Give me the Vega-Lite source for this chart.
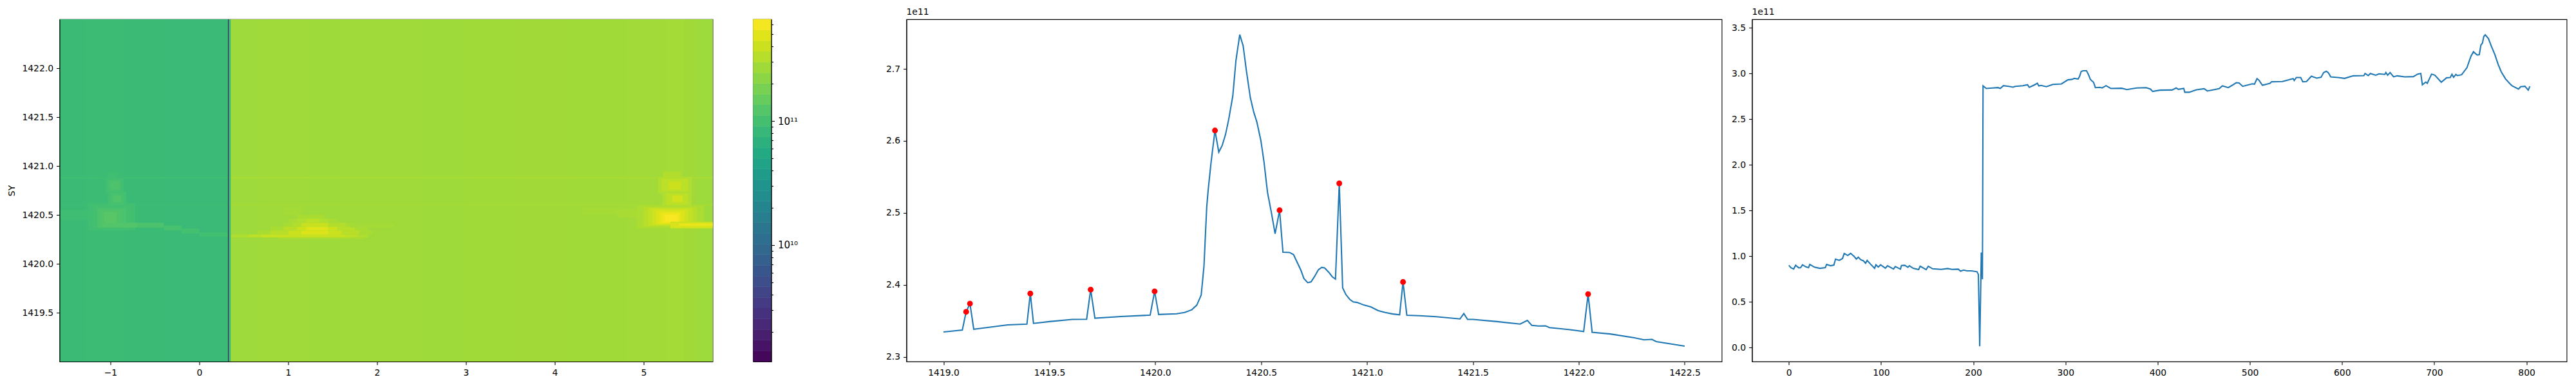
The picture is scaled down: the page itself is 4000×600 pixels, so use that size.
{"$schema":"https://vega.github.io/schema/vega-lite/v6.json","background":"white","padding":{"left":10.5,"top":11,"right":0,"bottom":0},"bounds":"flush","spacing":0,
"config":{"view":{"stroke":"black","strokeWidth":1.1},"axis":{"grid":false,"labelFont":"DejaVu Sans","labelFontSize":13.9,"labelColor":"black","tickColor":"black","domainColor":"black","tickSize":5,"tickWidth":1.1,"domainWidth":1.1,"labelPadding":5,"titleFont":"DejaVu Sans","titleFontWeight":"normal","titleFontSize":13.9,"titleColor":"black","labelOverlap":false,"labelFlush":false}},
"datasets":{
"none":[{"a":0,"b":0}],
"heat":[
{"x0":-1.572,"x1":0.355,"y0":1419,"y1":1422.5,"v":0.87e11},{"x0":0.355,"x1":5.775,"y0":1419,"y1":1422.5,"v":2.68e11},
{"x0":-1.3,"x1":-1.1,"y0":1419,"y1":1422.5,"v":0.88e11},{"x0":-1.1,"x1":-0.85,"y0":1419,"y1":1422.5,"v":0.89e11},{"x0":-0.4,"x1":0.355,"y0":1419,"y1":1422.5,"v":0.86e11},
{"x0":0.355,"x1":0.7,"y0":1419,"y1":1422.5,"v":2.64e11},{"x0":1.2,"x1":1.6,"y0":1419,"y1":1422.5,"v":2.66e11},{"x0":2.5,"x1":3,"y0":1419,"y1":1422.5,"v":2.65e11},{"x0":3,"x1":3.6,"y0":1419,"y1":1422.5,"v":2.7e11},{"x0":3.6,"x1":4.2,"y0":1419,"y1":1422.5,"v":2.73e11},{"x0":4.2,"x1":4.8,"y0":1419,"y1":1422.5,"v":2.7e11},{"x0":4.8,"x1":5.15,"y0":1419,"y1":1422.5,"v":2.72e11},{"x0":5.15,"x1":5.25,"y0":1419,"y1":1422.5,"v":2.75e11},{"x0":5.25,"x1":5.45,"y0":1419,"y1":1422.5,"v":2.84e11},{"x0":5.45,"x1":5.6,"y0":1419,"y1":1422.5,"v":2.73e11},{"x0":5.6,"x1":5.775,"y0":1419,"y1":1422.5,"v":2.62e11},
{"x0":-1.572,"x1":0.355,"y0":1420.872,"y1":1420.885,"v":0.95e11},{"x0":0.355,"x1":5.775,"y0":1420.872,"y1":1420.885,"v":3.0e11},{"x0":-1.572,"x1":0.355,"y0":1420.595,"y1":1420.608,"v":0.9e11},{"x0":0.355,"x1":5.775,"y0":1420.595,"y1":1420.608,"v":2.85e11},
{"x0":-1.572,"x1":-1.15,"y0":1420.45,"y1":1420.55,"v":0.93e11},{"x0":-1.25,"x1":-0.72,"y0":1420.34,"y1":1420.62,"v":0.95e11},{"x0":-1.2,"x1":-0.75,"y0":1420.36,"y1":1420.6,"v":1.0e11},{"x0":-1.15,"x1":-0.82,"y0":1420.37,"y1":1420.57,"v":1.08e11},{"x0":-1.12,"x1":-0.87,"y0":1420.39,"y1":1420.55,"v":1.15e11},{"x0":-1.07,"x1":-0.93,"y0":1420.41,"y1":1420.53,"v":1.27e11},
{"x0":-1.06,"x1":-0.85,"y0":1420.72,"y1":1420.88,"v":0.96e11},{"x0":-1.03,"x1":-0.88,"y0":1420.74,"y1":1420.86,"v":1.03e11},{"x0":-1.0,"x1":-0.9,"y0":1420.76,"y1":1420.84,"v":1.13e11},{"x0":-1.03,"x1":-0.82,"y0":1420.58,"y1":1420.74,"v":0.97e11},{"x0":-1.0,"x1":-0.85,"y0":1420.6,"y1":1420.72,"v":1.05e11},{"x0":-0.97,"x1":-0.88,"y0":1420.63,"y1":1420.7,"v":1.16e11},{"x0":-1.03,"x1":-0.92,"y0":1420.86,"y1":1420.93,"v":0.96e11},
{"x0":-1.1,"x1":-0.7,"y0":1420.37,"y1":1420.42,"v":1.18e11},{"x0":-0.7,"x1":-0.4,"y0":1420.37,"y1":1420.42,"v":1.1e11},{"x0":-0.4,"x1":-0.2,"y0":1420.34,"y1":1420.39,"v":1.04e11},{"x0":-0.2,"x1":0,"y0":1420.31,"y1":1420.36,"v":1.01e11},{"x0":0,"x1":0.322,"y0":1420.28,"y1":1420.32,"v":0.97e11},
{"x0":0.9,"x1":1.85,"y0":1420.25,"y1":1420.27,"v":2.95e11},{"x0":0.36,"x1":1.9,"y0":1420.27,"y1":1420.3,"v":3.1e11},{"x0":0.55,"x1":1.78,"y0":1420.27,"y1":1420.3,"v":3.5e11},{"x0":0.7,"x1":1.65,"y0":1420.27,"y1":1420.3,"v":3.9e11},
{"x0":0.65,"x1":1.95,"y0":1420.3,"y1":1420.34,"v":2.95e11},{"x0":0.8,"x1":1.8,"y0":1420.3,"y1":1420.34,"v":3.4e11},{"x0":1.0,"x1":1.6,"y0":1420.3,"y1":1420.34,"v":4.1e11},{"x0":1.15,"x1":1.45,"y0":1420.3,"y1":1420.34,"v":4.8e11},
{"x0":0.8,"x1":1.9,"y0":1420.34,"y1":1420.38,"v":2.95e11},{"x0":0.95,"x1":1.75,"y0":1420.34,"y1":1420.38,"v":3.4e11},{"x0":1.1,"x1":1.55,"y0":1420.34,"y1":1420.38,"v":4.1e11},{"x0":1.2,"x1":1.45,"y0":1420.34,"y1":1420.38,"v":4.9e11},
{"x0":0.95,"x1":1.75,"y0":1420.38,"y1":1420.42,"v":2.9e11},{"x0":1.05,"x1":1.65,"y0":1420.38,"y1":1420.42,"v":3.2e11},{"x0":1.15,"x1":1.45,"y0":1420.38,"y1":1420.42,"v":3.9e11},{"x0":1.0,"x1":1.55,"y0":1420.42,"y1":1420.46,"v":2.9e11},{"x0":1.1,"x1":1.45,"y0":1420.42,"y1":1420.46,"v":3.1e11},{"x0":1.2,"x1":1.35,"y0":1420.42,"y1":1420.46,"v":3.5e11},{"x0":1.1,"x1":1.4,"y0":1420.46,"y1":1420.5,"v":2.95e11},{"x0":0.95,"x1":1.15,"y0":1420.5,"y1":1420.58,"v":2.82e11},{"x0":1.7,"x1":2.2,"y0":1420.37,"y1":1420.41,"v":2.82e11},
{"x0":4.3,"x1":4.9,"y0":1420.5,"y1":1420.58,"v":2.82e11},{"x0":4.7,"x1":5.05,"y0":1420.47,"y1":1420.55,"v":2.92e11},{"x0":4.92,"x1":5.68,"y0":1420.36,"y1":1420.6,"v":3.0e11},{"x0":5.0,"x1":5.6,"y0":1420.38,"y1":1420.58,"v":3.3e11},{"x0":5.05,"x1":5.55,"y0":1420.39,"y1":1420.57,"v":3.7e11},{"x0":5.1,"x1":5.5,"y0":1420.4,"y1":1420.56,"v":4.2e11},{"x0":5.14,"x1":5.46,"y0":1420.405,"y1":1420.545,"v":4.7e11},{"x0":5.18,"x1":5.42,"y0":1420.41,"y1":1420.53,"v":5.2e11},{"x0":5.21,"x1":5.4,"y0":1420.42,"y1":1420.515,"v":5.8e11},{"x0":5.24,"x1":5.38,"y0":1420.43,"y1":1420.5,"v":6.4e11},{"x0":5.3,"x1":5.775,"y0":1420.36,"y1":1420.43,"v":3.9e11},{"x0":5.3,"x1":5.775,"y0":1420.37,"y1":1420.42,"v":4.6e11},{"x0":5.4,"x1":5.775,"y0":1420.39,"y1":1420.41,"v":5.5e11},
{"x0":5.16,"x1":5.54,"y0":1420.72,"y1":1420.89,"v":3.1e11},{"x0":5.2,"x1":5.5,"y0":1420.74,"y1":1420.87,"v":3.5e11},{"x0":5.28,"x1":5.42,"y0":1420.76,"y1":1420.84,"v":4.1e11},{"x0":5.21,"x1":5.54,"y0":1420.58,"y1":1420.74,"v":3.1e11},{"x0":5.25,"x1":5.5,"y0":1420.6,"y1":1420.72,"v":3.5e11},{"x0":5.32,"x1":5.44,"y0":1420.63,"y1":1420.7,"v":4.2e11},{"x0":5.22,"x1":5.42,"y0":1420.87,"y1":1420.94,"v":3.2e11},
{"x0":0.3235,"x1":0.3305,"y0":1419,"y1":1422.5,"v":1.2e9}],
"bar":[
{"a":0,"b":1,"lo":1.15e9,"hi":1.40e9,"v":1.27e9},{"a":0,"b":1,"lo":1.40e9,"hi":1.71e9,"v":1.55e9},{"a":0,"b":1,"lo":1.71e9,"hi":2.08e9,"v":1.88e9},{"a":0,"b":1,"lo":2.08e9,"hi":2.54e9,"v":2.3e9},{"a":0,"b":1,"lo":2.54e9,"hi":3.10e9,"v":2.8e9},{"a":0,"b":1,"lo":3.10e9,"hi":3.78e9,"v":3.42e9},{"a":0,"b":1,"lo":3.78e9,"hi":4.61e9,"v":4.17e9},{"a":0,"b":1,"lo":4.61e9,"hi":5.62e9,"v":5.09e9},{"a":0,"b":1,"lo":5.62e9,"hi":6.85e9,"v":6.2e9},{"a":0,"b":1,"lo":6.85e9,"hi":8.37e9,"v":7.57e9},{"a":0,"b":1,"lo":8.37e9,"hi":1.02e10,"v":9.24e9},{"a":0,"b":1,"lo":1.02e10,"hi":1.24e10,"v":1.13e10},{"a":0,"b":1,"lo":1.24e10,"hi":1.52e10,"v":1.37e10},{"a":0,"b":1,"lo":1.52e10,"hi":1.85e10,"v":1.68e10},{"a":0,"b":1,"lo":1.85e10,"hi":2.26e10,"v":2.04e10},{"a":0,"b":1,"lo":2.26e10,"hi":2.75e10,"v":2.49e10},{"a":0,"b":1,"lo":2.75e10,"hi":3.36e10,"v":3.04e10},{"a":0,"b":1,"lo":3.36e10,"hi":4.10e10,"v":3.71e10},{"a":0,"b":1,"lo":4.10e10,"hi":5.00e10,"v":4.53e10},{"a":0,"b":1,"lo":5.00e10,"hi":6.10e10,"v":5.52e10},{"a":0,"b":1,"lo":6.10e10,"hi":7.43e10,"v":6.73e10},{"a":0,"b":1,"lo":7.43e10,"hi":9.08e10,"v":8.22e10},{"a":0,"b":1,"lo":9.08e10,"hi":1.11e11,"v":1.0e11},{"a":0,"b":1,"lo":1.11e11,"hi":1.35e11,"v":1.22e11},{"a":0,"b":1,"lo":1.35e11,"hi":1.64e11,"v":1.49e11},{"a":0,"b":1,"lo":1.64e11,"hi":2.01e11,"v":1.82e11},{"a":0,"b":1,"lo":2.01e11,"hi":2.45e11,"v":2.22e11},{"a":0,"b":1,"lo":2.45e11,"hi":2.99e11,"v":2.7e11},{"a":0,"b":1,"lo":2.99e11,"hi":3.64e11,"v":3.3e11},{"a":0,"b":1,"lo":3.64e11,"hi":4.45e11,"v":4.03e11},{"a":0,"b":1,"lo":4.45e11,"hi":5.42e11,"v":4.91e11},{"a":0,"b":1,"lo":5.42e11,"hi":6.61e11,"v":5.99e11}],
"slice":[
{"x":1419.0,"y":2.3346e11},{"x":1419.089,"y":2.3373e11},{"x":1419.107,"y":2.3626e11},{"x":1419.125,"y":2.374e11},{"x":1419.143,"y":2.3383e11},{"x":1419.303,"y":2.3445e11},{"x":1419.394,"y":2.3455e11},{"x":1419.41,"y":2.388e11},{"x":1419.425,"y":2.3465e11},{"x":1419.5,"y":2.349e11},{"x":1419.608,"y":2.352e11},{"x":1419.676,"y":2.3523e11},{"x":1419.695,"y":2.3934e11},{"x":1419.715,"y":2.3537e11},{"x":1419.838,"y":2.356e11},{"x":1419.976,"y":2.358e11},{"x":1419.997,"y":2.391e11},{"x":1420.016,"y":2.3588e11},{"x":1420.1,"y":2.3599e11},{"x":1420.138,"y":2.3616e11},{"x":1420.172,"y":2.3653e11},{"x":1420.196,"y":2.3718e11},{"x":1420.217,"y":2.3859e11},{"x":1420.23,"y":2.4259e11},{"x":1420.243,"y":2.508e11},{"x":1420.25,"y":2.532e11},{"x":1420.264,"y":2.5713e11},{"x":1420.282,"y":2.6144e11},{"x":1420.3,"y":2.5843e11},{"x":1420.316,"y":2.5935e11},{"x":1420.332,"y":2.609e11},{"x":1420.347,"y":2.63e11},{"x":1420.366,"y":2.662e11},{"x":1420.381,"y":2.7116e11},{"x":1420.399,"y":2.7475e11},{"x":1420.415,"y":2.732e11},{"x":1420.431,"y":2.696e11},{"x":1420.449,"y":2.66e11},{"x":1420.465,"y":2.64e11},{"x":1420.48,"y":2.626e11},{"x":1420.499,"y":2.6e11},{"x":1420.514,"y":2.5696e11},{"x":1420.53,"y":2.5285e11},{"x":1420.548,"y":2.501e11},{"x":1420.566,"y":2.471e11},{"x":1420.587,"y":2.5036e11},{"x":1420.603,"y":2.4454e11},{"x":1420.634,"y":2.445e11},{"x":1420.653,"y":2.442e11},{"x":1420.668,"y":2.4327e11},{"x":1420.687,"y":2.4208e11},{"x":1420.702,"y":2.4088e11},{"x":1420.72,"y":2.403e11},{"x":1420.736,"y":2.4043e11},{"x":1420.752,"y":2.4115e11},{"x":1420.77,"y":2.4208e11},{"x":1420.786,"y":2.4242e11},{"x":1420.8,"y":2.4235e11},{"x":1420.82,"y":2.4173e11},{"x":1420.836,"y":2.4112e11},{"x":1420.851,"y":2.408e11},{"x":1420.869,"y":2.541e11},{"x":1420.885,"y":2.3958e11},{"x":1420.9,"y":2.3866e11},{"x":1420.919,"y":2.3797e11},{"x":1420.935,"y":2.3763e11},{"x":1420.953,"y":2.3756e11},{"x":1420.987,"y":2.3718e11},{"x":1421.018,"y":2.3694e11},{"x":1421.052,"y":2.3643e11},{"x":1421.086,"y":2.3616e11},{"x":1421.123,"y":2.3595e11},{"x":1421.154,"y":2.3585e11},{"x":1421.17,"y":2.404e11},{"x":1421.188,"y":2.3578e11},{"x":1421.248,"y":2.3571e11},{"x":1421.326,"y":2.3558e11},{"x":1421.439,"y":2.3527e11},{"x":1421.457,"y":2.3602e11},{"x":1421.475,"y":2.352e11},{"x":1421.501,"y":2.352e11},{"x":1421.614,"y":2.349e11},{"x":1421.723,"y":2.3455e11},{"x":1421.757,"y":2.3506e11},{"x":1421.778,"y":2.3438e11},{"x":1421.81,"y":2.3428e11},{"x":1421.843,"y":2.3431e11},{"x":1421.862,"y":2.3407e11},{"x":1421.953,"y":2.338e11},{"x":1422.023,"y":2.3352e11},{"x":1422.044,"y":2.3872e11},{"x":1422.063,"y":2.3342e11},{"x":1422.149,"y":2.3318e11},{"x":1422.266,"y":2.3263e11},{"x":1422.308,"y":2.3236e11},{"x":1422.345,"y":2.3243e11},{"x":1422.366,"y":2.3212e11},{"x":1422.5,"y":2.315e11}],
"peaks":[{"x":1419.107,"y":2.3626e11},{"x":1419.125,"y":2.374e11},{"x":1419.41,"y":2.388e11},{"x":1419.695,"y":2.3934e11},{"x":1419.997,"y":2.391e11},{"x":1420.282,"y":2.6144e11},{"x":1420.587,"y":2.5036e11},{"x":1420.869,"y":2.541e11},{"x":1421.17,"y":2.404e11},{"x":1422.044,"y":2.3872e11}],
"profile":[
{"x":0,"y":0.9e11},{"x":2.2,"y":0.874e11},{"x":5.2,"y":0.86e11},{"x":7.3,"y":0.9e11},{"x":10.8,"y":0.872e11},{"x":12.7,"y":0.874e11},{"x":14.8,"y":0.905e11},{"x":18.5,"y":0.883e11},{"x":21.3,"y":0.874e11},{"x":22.7,"y":0.909e11},{"x":27.8,"y":0.879e11},{"x":33.6,"y":0.867e11},{"x":39.5,"y":0.874e11},{"x":40.9,"y":0.909e11},{"x":45.3,"y":0.895e11},{"x":48.8,"y":0.902e11},{"x":50.6,"y":0.968e11},{"x":54.6,"y":0.954e11},{"x":58.1,"y":0.973e11},{"x":60,"y":1.029e11},{"x":63.9,"y":1.008e11},{"x":67,"y":1.031e11},{"x":70.9,"y":0.996e11},{"x":73.2,"y":0.968e11},{"x":75.3,"y":0.989e11},{"x":77.9,"y":0.961e11},{"x":80.9,"y":0.949e11},{"x":83.2,"y":0.923e11},{"x":84.9,"y":0.954e11},{"x":88.4,"y":0.914e11},{"x":93,"y":0.867e11},{"x":94.4,"y":0.905e11},{"x":97,"y":0.881e11},{"x":99.5,"y":0.905e11},{"x":104.7,"y":0.869e11},{"x":107,"y":0.895e11},{"x":113.5,"y":0.86e11},{"x":115.4,"y":0.886e11},{"x":121,"y":0.858e11},{"x":122.1,"y":0.898e11},{"x":125.6,"y":0.9e11},{"x":129.1,"y":0.879e11},{"x":130.7,"y":0.895e11},{"x":134.9,"y":0.867e11},{"x":140.7,"y":0.853e11},{"x":142.4,"y":0.89e11},{"x":148.9,"y":0.853e11},{"x":151.2,"y":0.89e11},{"x":155.9,"y":0.862e11},{"x":165.2,"y":0.855e11},{"x":172.2,"y":0.865e11},{"x":176.8,"y":0.855e11},{"x":183.8,"y":0.858e11},{"x":186.1,"y":0.836e11},{"x":189.6,"y":0.848e11},{"x":193.1,"y":0.839e11},{"x":197.8,"y":0.839e11},{"x":204,"y":0.83e11},{"x":205.5,"y":0.8e11},{"x":206.3,"y":0.4e11},{"x":207,"y":0.013e11},{"x":208.7,"y":1.04e11},{"x":209.9,"y":0.747e11},{"x":210.6,"y":2.865e11},
{"x":214.1,"y":2.837e11},{"x":221.1,"y":2.842e11},{"x":226.9,"y":2.846e11},{"x":229.2,"y":2.837e11},{"x":232.7,"y":2.867e11},{"x":238.5,"y":2.86e11},{"x":243.2,"y":2.851e11},{"x":245.5,"y":2.86e11},{"x":253.7,"y":2.867e11},{"x":258.8,"y":2.877e11},{"x":260.7,"y":2.849e11},{"x":265.3,"y":2.87e11},{"x":269.5,"y":2.893e11},{"x":271.1,"y":2.865e11},{"x":273.5,"y":2.87e11},{"x":279.3,"y":2.856e11},{"x":286.3,"y":2.881e11},{"x":295.6,"y":2.886e11},{"x":302.6,"y":2.931e11},{"x":307.2,"y":2.936e11},{"x":309.5,"y":2.947e11},{"x":313.7,"y":2.94e11},{"x":315.4,"y":2.971e11},{"x":317,"y":3.022e11},{"x":318.9,"y":3.03e11},{"x":322.8,"y":3.03e11},{"x":324.7,"y":2.994e11},{"x":327,"y":2.936e11},{"x":330.5,"y":2.903e11},{"x":332.4,"y":2.846e11},{"x":337.5,"y":2.849e11},{"x":339.8,"y":2.842e11},{"x":344,"y":2.867e11},{"x":349.1,"y":2.837e11},{"x":360.8,"y":2.839e11},{"x":366.6,"y":2.825e11},{"x":377.1,"y":2.842e11},{"x":387.5,"y":2.846e11},{"x":392.2,"y":2.83e11},{"x":394.5,"y":2.804e11},{"x":402.7,"y":2.818e11},{"x":415.5,"y":2.82e11},{"x":420.1,"y":2.842e11},{"x":422.5,"y":2.827e11},{"x":428.3,"y":2.837e11},{"x":429.4,"y":2.795e11},{"x":434.1,"y":2.795e11},{"x":442.2,"y":2.823e11},{"x":450.4,"y":2.834e11},{"x":453.9,"y":2.809e11},{"x":466.7,"y":2.834e11},{"x":470.2,"y":2.865e11},{"x":476.6,"y":2.846e11},{"x":480.6,"y":2.87e11},{"x":485.2,"y":2.9e11},{"x":488.3,"y":2.896e11},{"x":492.2,"y":2.86e11},{"x":502.7,"y":2.888e11},{"x":505,"y":2.884e11},{"x":507.8,"y":2.945e11},{"x":510.1,"y":2.924e11},{"x":513.6,"y":2.872e11},{"x":521.8,"y":2.893e11},{"x":523.6,"y":2.91e11},{"x":535.3,"y":2.912e11},{"x":542.3,"y":2.931e11},{"x":546.9,"y":2.945e11},{"x":548.1,"y":2.924e11},{"x":550.4,"y":2.957e11},{"x":555.1,"y":2.957e11},{"x":557.4,"y":2.91e11},{"x":561.4,"y":2.912e11},{"x":566.7,"y":2.971e11},{"x":572.5,"y":2.95e11},{"x":577.2,"y":2.959e11},{"x":580,"y":3.011e11},{"x":583,"y":3.025e11},{"x":585.3,"y":3.006e11},{"x":587.7,"y":2.964e11},{"x":595.8,"y":2.957e11},{"x":602.8,"y":2.947e11},{"x":612.1,"y":2.975e11},{"x":623.7,"y":2.978e11},{"x":624.9,"y":3.001e11},{"x":628.4,"y":2.978e11},{"x":630.7,"y":3.001e11},{"x":636.6,"y":2.982e11},{"x":640,"y":2.997e11},{"x":646.3,"y":2.99e11},{"x":647.5,"y":3.011e11},{"x":649.4,"y":2.982e11},{"x":652.1,"y":3.011e11},{"x":655.9,"y":2.964e11},{"x":659.8,"y":2.975e11},{"x":668,"y":2.964e11},{"x":677.3,"y":2.966e11},{"x":682,"y":2.994e11},{"x":685.4,"y":3.001e11},{"x":687.1,"y":2.877e11},{"x":690.8,"y":2.907e11},{"x":692.4,"y":2.893e11},{"x":697.1,"y":2.994e11},{"x":700.6,"y":2.982e11},{"x":707.6,"y":2.905e11},{"x":713.4,"y":2.954e11},{"x":717.3,"y":2.957e11},{"x":719.2,"y":2.992e11},{"x":721,"y":2.959e11},{"x":723.4,"y":2.99e11},{"x":725,"y":2.978e11},{"x":729.7,"y":2.987e11},{"x":735.5,"y":3.065e11},{"x":739.7,"y":3.187e11},{"x":742.5,"y":3.239e11},{"x":746.4,"y":3.203e11},{"x":748.8,"y":3.206e11},{"x":750.6,"y":3.312e11},{"x":752.3,"y":3.335e11},{"x":753.7,"y":3.405e11},{"x":755.3,"y":3.424e11},{"x":758.8,"y":3.382e11},{"x":761.6,"y":3.307e11},{"x":765.8,"y":3.206e11},{"x":769.3,"y":3.1e11},{"x":772.7,"y":3.018e11},{"x":777.4,"y":2.94e11},{"x":782.5,"y":2.884e11},{"x":784.4,"y":2.865e11},{"x":791.4,"y":2.83e11},{"x":793.7,"y":2.856e11},{"x":798.4,"y":2.86e11},{"x":801.9,"y":2.818e11},{"x":803.7,"y":2.86e11}]
},
"hconcat":[
{"width":1014,"height":532,"data":{"name":"heat"},"mark":{"type":"rect","strokeWidth":0},
"encoding":{
"x":{"field":"x0","type":"quantitative","scale":{"domain":[-1.572,5.775],"nice":false,"zero":false},"axis":{"title":null,"values":[-1,0,1,2,3,4,5],"labelExpr":"replace(format(datum.value,'d'),'-','−')","zindex":1}},
"x2":{"field":"x1"},
"y":{"field":"y0","type":"quantitative","scale":{"domain":[1419,1422.5],"nice":false,"zero":false},"axis":{"title":"SY","titlePadding":8,"values":[1419.5,1420,1420.5,1421,1421.5,1422],"format":".1f","zindex":1}},
"y2":{"field":"y1"},
"color":{"field":"v","type":"quantitative","scale":{"type":"log","scheme":"viridis","domain":[1.15e9,6.61e11]},"legend":null}}},
{"width":63,"height":532,"view":{"stroke":null},"data":{"name":"none"},"mark":{"type":"point","opacity":0},"encoding":{"x":{"field":"a","type":"quantitative","axis":null},"y":{"field":"b","type":"quantitative","axis":null}}},
{"width":28,"height":532,"data":{"name":"bar"},"mark":{"type":"rect","strokeWidth":0.6},"encoding":{
"x":{"field":"a","type":"quantitative","scale":{"domain":[0,1],"nice":false},"axis":null},
"x2":{"field":"b"},
"y":{"field":"lo","type":"quantitative","scale":{"type":"log","domain":[1.15e9,6.61e11],"nice":false},"axis":{"orient":"right","title":null,"values":[2e9,3e9,4e9,5e9,6e9,7e9,8e9,9e9,1e10,2e10,3e10,4e10,5e10,6e10,7e10,8e10,9e10,1e11,2e11,3e11,4e11,5e11,6e11],"tickSize":{"condition":{"test":"datum.value==1e10||datum.value==1e11","value":5},"value":3},"labelExpr":"datum.value==1e11?'10¹¹':(datum.value==1e10?'10¹⁰':'')","labelFontSize":15,"zindex":1}},
"y2":{"field":"hi"},
"color":{"field":"v","type":"quantitative","scale":{"type":"log","scheme":"viridis","domain":[1.15e9,6.61e11]},"legend":null},
"stroke":{"field":"v","type":"quantitative","scale":{"type":"log","scheme":"viridis","domain":[1.15e9,6.61e11]},"legend":null}}},
{"width":210,"height":532,"view":{"stroke":null},"data":{"name":"none"},"mark":{"type":"point","opacity":0},"encoding":{"x":{"field":"a","type":"quantitative","axis":null},"y":{"field":"b","type":"quantitative","axis":null}}},
{"width":1266,"height":532,"title":{"text":"1e11","anchor":"start","frame":"group","fontSize":13.9,"fontWeight":"normal","font":"DejaVu Sans","offset":4,"color":"black"},
"layer":[
{"data":{"name":"slice"},"mark":{"type":"line","color":"#1f77b4","strokeWidth":2.08,"clip":true},"encoding":{
"x":{"field":"x","type":"quantitative","scale":{"domain":[1418.825,1422.675],"nice":false,"zero":false},"axis":{"title":null,"values":[1419,1419.5,1420,1420.5,1421,1421.5,1422,1422.5],"format":".1f"}},
"y":{"field":"y","type":"quantitative","scale":{"domain":[2.2935e11,2.7688e11],"nice":false,"zero":false},"axis":{"title":null,"values":[2.3e11,2.4e11,2.5e11,2.6e11,2.7e11],"labelExpr":"format(datum.value/1e11,'.1f')"}}}},
{"data":{"name":"peaks"},"mark":{"type":"point","filled":true,"color":"red","size":80,"opacity":1},"encoding":{
"x":{"field":"x","type":"quantitative"},"y":{"field":"y","type":"quantitative"}}}
]},
{"width":47,"height":532,"view":{"stroke":null},"data":{"name":"none"},"mark":{"type":"point","opacity":0},"encoding":{"x":{"field":"a","type":"quantitative","axis":null},"y":{"field":"b","type":"quantitative","axis":null}}},
{"width":1265,"height":532,"title":{"text":"1e11","anchor":"start","frame":"group","fontSize":13.9,"fontWeight":"normal","font":"DejaVu Sans","offset":4,"color":"black"},
"data":{"name":"profile"},"mark":{"type":"line","color":"#1f77b4","strokeWidth":2.08},"encoding":{
"x":{"field":"x","type":"quantitative","scale":{"domain":[-40,843.6],"nice":false,"zero":false},"axis":{"title":null,"values":[0,100,200,300,400,500,600,700,800]}},
"y":{"field":"y","type":"quantitative","scale":{"domain":[-0.154e11,3.594e11],"nice":false,"zero":false},"axis":{"title":null,"values":[0,0.5e11,1e11,1.5e11,2e11,2.5e11,3e11,3.5e11],"labelExpr":"format(datum.value/1e11,'.1f')"}}}}
]}
